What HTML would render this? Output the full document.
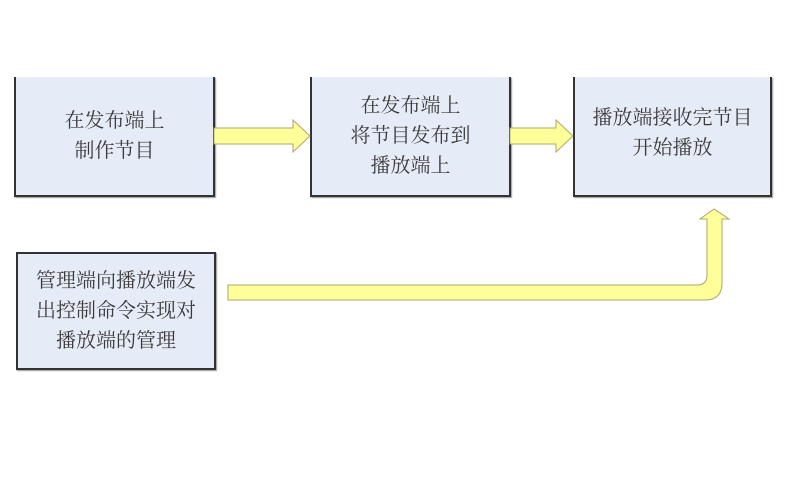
<!DOCTYPE html>
<html><head><meta charset="utf-8"><style>
body{margin:0;width:789px;height:478px;background:#fff;position:relative;overflow:hidden;font-family:"Liberation Serif","Noto Serif CJK SC",serif;}
.b{position:absolute;background:#e6ecf7;border:2px solid #333;border-top:none;box-shadow:1px 1px 1px #999;display:flex;align-items:center;justify-content:center;text-align:center;color:#3a3a3a;font-size:20px;line-height:30px;}
</style></head><body>
<div class="b" style="left:14px;top:77px;width:197px;height:118px;">在发布端上<br>制作节目</div>
<div class="b" style="left:310px;top:77px;width:197px;height:118px;">在发布端上<br>将节目发布到<br>播放端上</div>
<div class="b" style="left:573px;top:77px;box-sizing:border-box;height:120px;width:199px;padding-bottom:6px;">播放端接收完节目<br>开始播放</div>
<div class="b" style="left:16px;top:252px;width:196px;height:114px;border-top:2px solid #333;">管理端向播放端发<br>出控制命令实现对<br>播放端的管理</div>
<svg width="789" height="478" style="position:absolute;left:0;top:0">
<g fill="#ffff99" stroke="#a8a86a" stroke-width="1">
<path d="M214 128 H293 V120 L310 136 L293 152 V144 H214 Z"/>
<path d="M510 128 H556 V120 L573 136 L556 152 V144 H510 Z"/>
<path d="M228 285 H697 Q707 285 707 275 V219 H700 L714 209 L729 219 H722 V283 Q722 300 705 300 H228 Z"/>
</g>
</svg>
</body></html>
